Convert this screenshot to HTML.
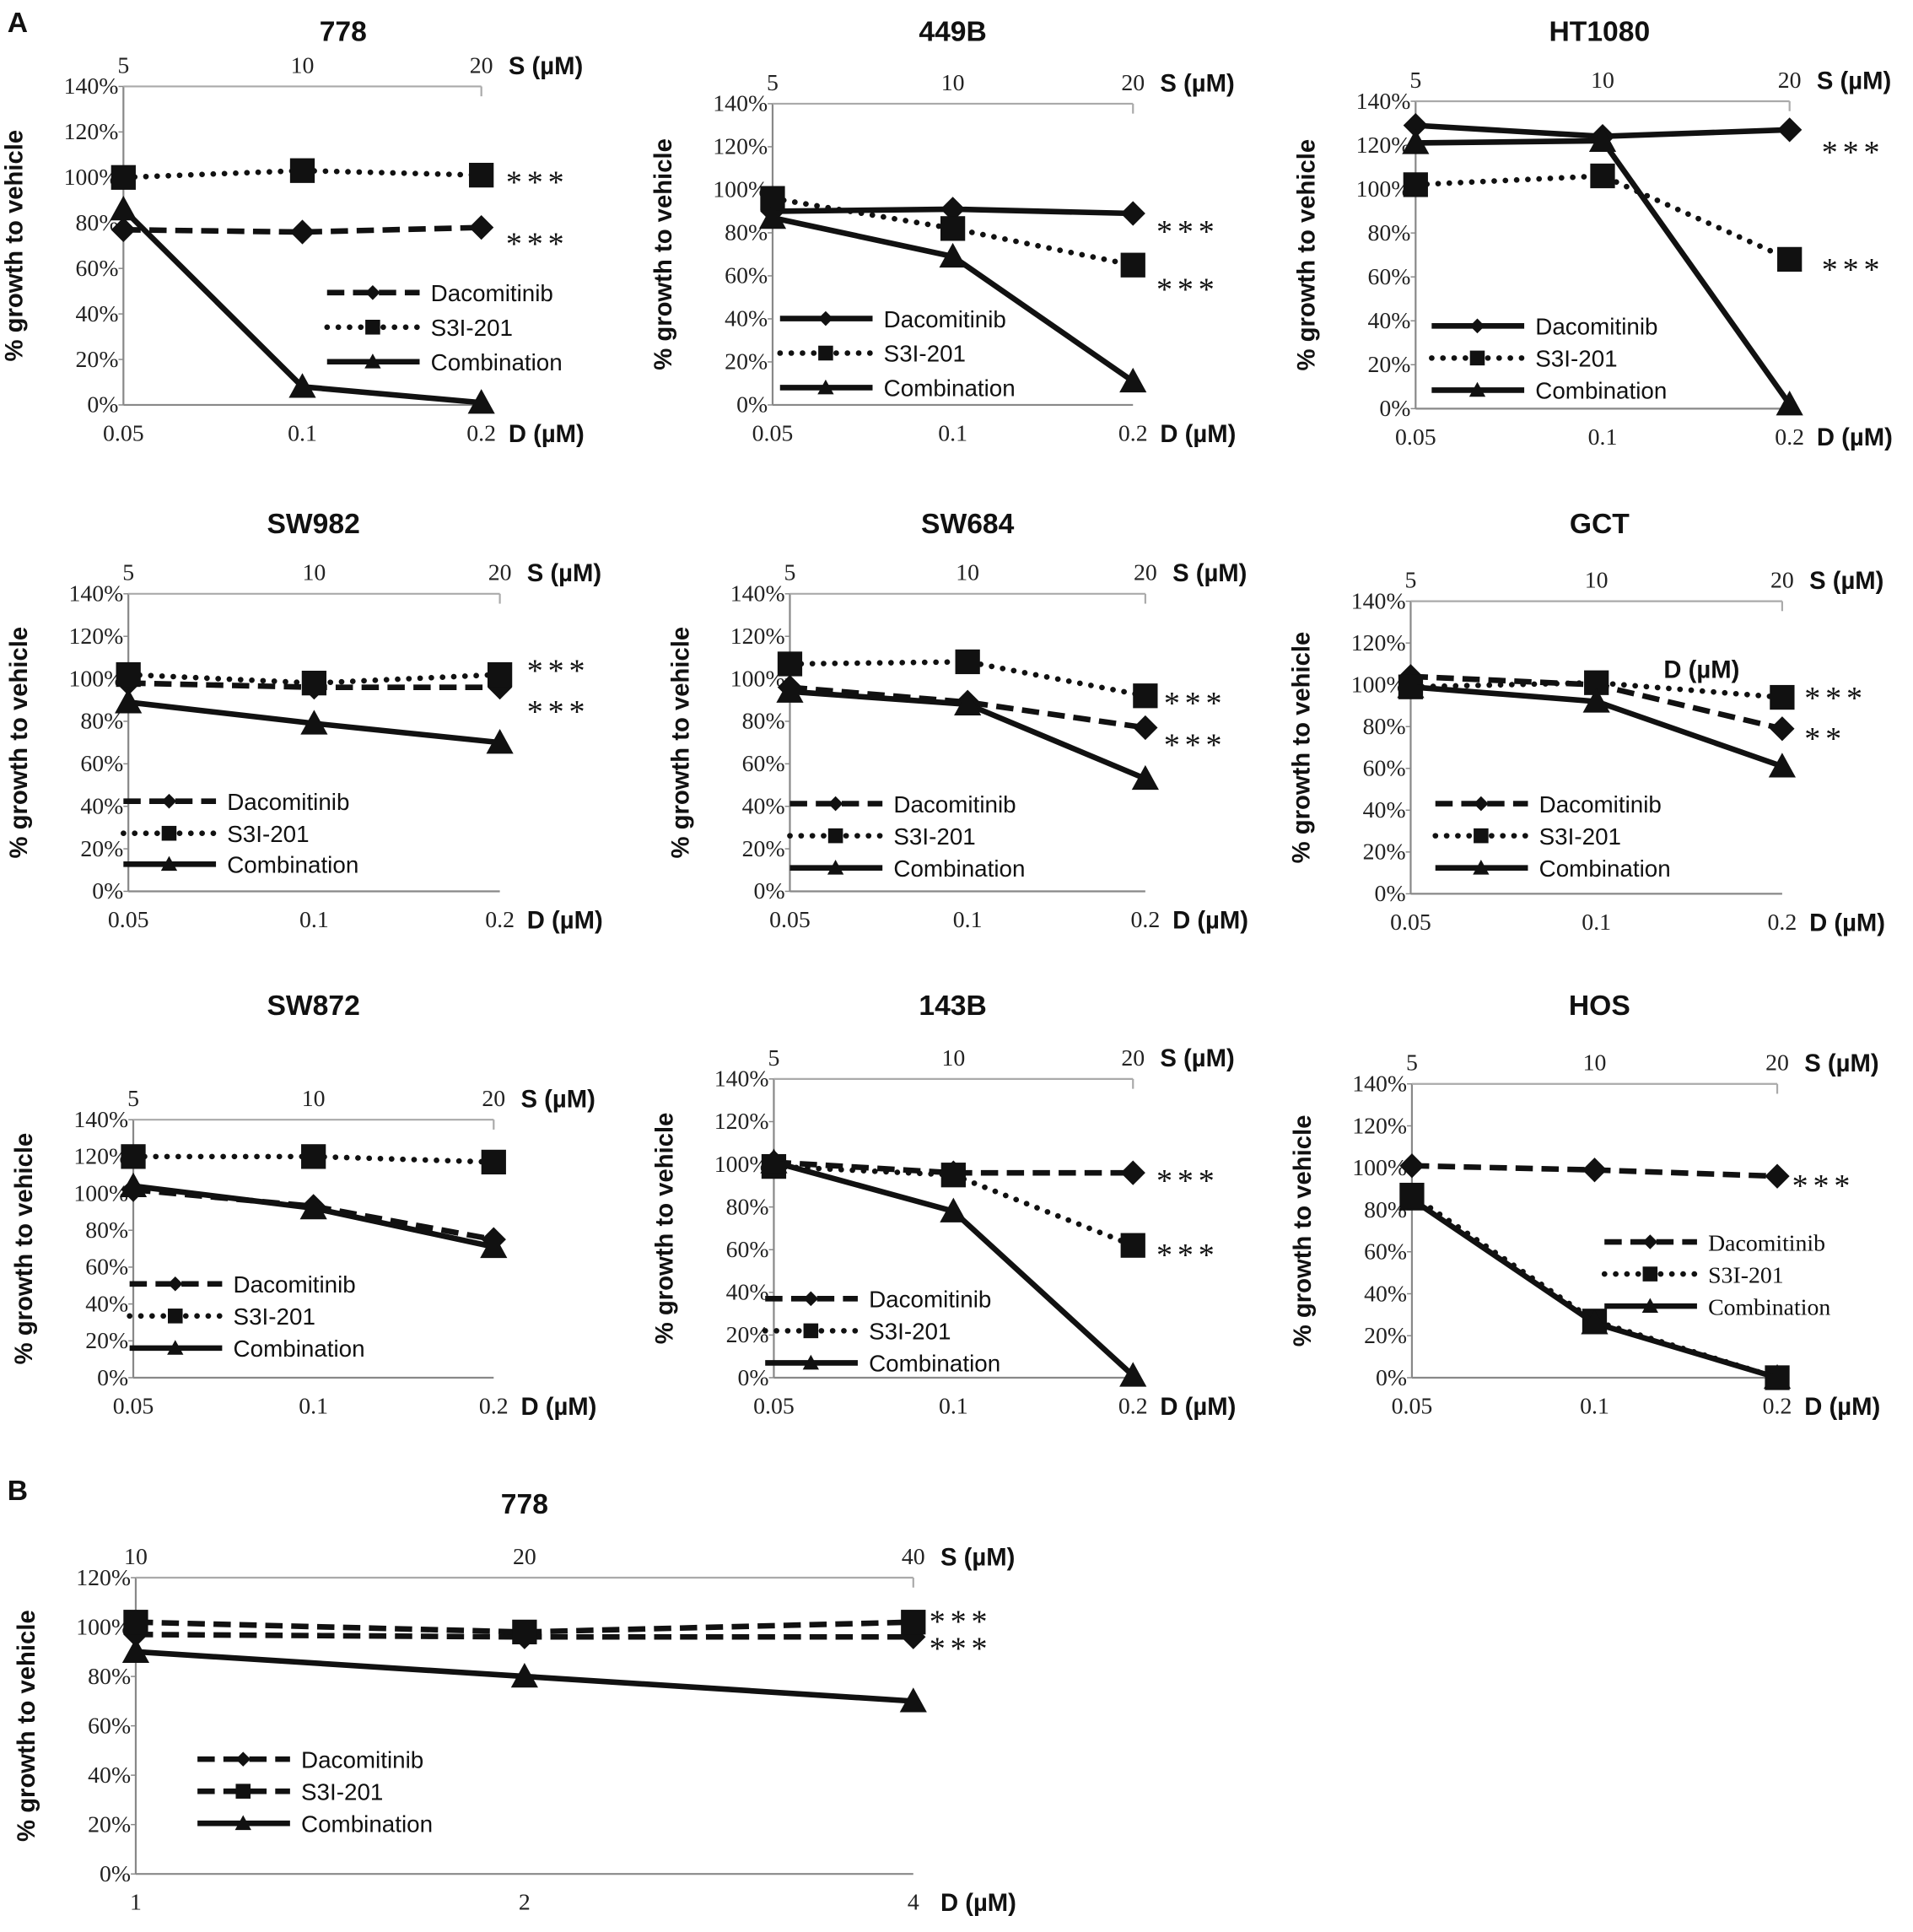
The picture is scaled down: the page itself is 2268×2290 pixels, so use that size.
<!DOCTYPE html>
<html><head><meta charset="utf-8"><style>
html,body{margin:0;padding:0;background:#fff}
svg{display:block}
.tk{font-family:"Liberation Serif",serif;font-size:19px;fill:#222}
.ax{font-family:"Liberation Sans",sans-serif;font-size:20px;font-weight:bold;fill:#111}
.ti{font-family:"Liberation Sans",sans-serif;font-size:23px;font-weight:bold;fill:#111}
.lg{font-family:"Liberation Sans",sans-serif;font-size:19px;fill:#111}
.st{font-family:"Liberation Serif",serif;font-size:26px;fill:#111;letter-spacing:4px}
</style></head><body>
<svg id="fig" width="2268" height="2290" viewBox="0 0 1550 1565" xmlns="http://www.w3.org/2000/svg">
<text class="ti" x="6" y="26">A</text>
<text class="ti" x="6" y="1215">B</text>
</svg>
<script>
const dLabels=["0.05","0.1","0.2"];
const sLabels=["5","10","20"];
const dLabelsB=["1","2","4"];
const sLabelsB=["10","20","40"];
const dac778=[77,76,78], s3i778=[100,103,101], comb778=[86,8,1];
const dac449=[90,91,89], s3i449=[96,82,65], comb449=[87,69,11];
const dacHT=[129,124,127], s3iHT=[102,106,68], combHT=[121,122,2];
const dac982=[98,96,96], s3i982=[102,98,102], comb982=[89,79,70];
const dac684=[96,89,77], s3i684=[107,108,92], comb684=[94,88,53];
const dacGCT=[104,100,79], s3iGCT=[99,101,94], combGCT=[99,92,61];
const dac872=[102,93,75], s3i872=[120,120,117], comb872=[104,92,71];
const dac143=[101,96,96], s3i143=[99,95,62], comb143=[101,78,1];
const dacHOS=[101,99,96], s3iHOS=[87,27,0], combHOS=[85,26,0];
const dacB=[97,96,96], s3iB=[102,98,102], combB=[90,80,70];

const NS="http://www.w3.org/2000/svg";
const svg=document.getElementById('fig');
function mk(tag,attrs,parent,txt){const e=document.createElementNS(NS,tag);for(const k in attrs)e.setAttribute(k,attrs[k]);if(txt!==undefined)e.textContent=txt;(parent||svg).appendChild(e);return e;}
const DASH={dash:"14 7",dot:"0.1 9",solid:"none"};
function marker(g,type,x,y,name,r){
  r=r||10;
  let m;
  if(type==='d')m=mk('polygon',{points:`${x},${y-r} ${x+r},${y} ${x},${y+r} ${x-r},${y}`,fill:'#111'},g);
  else if(type==='s')m=mk('rect',{x:x-r,y:y-r,width:2*r,height:2*r,fill:'#111'},g);
  else m=mk('polygon',{points:`${x},${y-r*1.1} ${x+r*1.1},${y+r*0.9} ${x-r*1.1},${y+r*0.9}`,fill:'#111'},g);
  
  
}
function panel(p){
  const g=mk('g',{});
  
  
  const n=3, xs=i=>p.x0+(p.x1-p.x0)*i/(n-1), ys=v=>p.y0-(p.y0-p.yt)*v/p.ymax;
  mk('line',{x1:p.x0,y1:p.y0,x2:p.x1,y2:p.y0,stroke:'#888','stroke-width':1.5},g);
  mk('line',{x1:p.x0,y1:p.y0,x2:p.x0,y2:p.yt,stroke:'#888','stroke-width':1.5},g);
  mk('line',{x1:p.x0,y1:p.yt,x2:p.x1,y2:p.yt,stroke:'#aaa','stroke-width':1.5},g);
  mk('line',{x1:p.x1,y1:p.yt,x2:p.x1,y2:p.yt+8,stroke:'#aaa','stroke-width':1.5},g);
  for(let v=0;v<=p.ymax;v+=20){
    const t=mk('text',{class:'tk',x:p.x0-4,y:ys(v)+6,'text-anchor':'end'},g,v+'%');
    
    
    mk('line',{x1:p.x0-4,y1:ys(v),x2:p.x0,y2:ys(v),stroke:'#888'},g);
  }
  p.dl.forEach((l,i)=>{const t=mk('text',{class:'tk',x:xs(i),y:p.y0+29,'text-anchor':'middle'},g,l);
    });
  p.sl.forEach((l,i)=>{const t=mk('text',{class:'tk',x:xs(i),y:p.yt-11,'text-anchor':'middle'},g,l);
    });
  const da=mk('text',{class:'ax',x:p.x1+22,y:p.y0+30},g,'D (µM)');
  
  const sa=mk('text',{class:'ax',x:p.x1+22,y:p.yt-10},g,'S (µM)');
  
  const ti=mk('text',{class:'ti',x:p.tx,y:p.ty,'text-anchor':'middle'},g,p.title);
  
  const cy=(p.y0+p.yt)/2;
  const yt=mk('text',{class:'ax',x:p.x0-82,y:cy,'text-anchor':'middle',transform:`rotate(-90 ${p.x0-82} ${cy})`},g,'% growth to vehicle');
  
  p.series.forEach(s=>{
    const pts=s.v.map((v,i)=>xs(i)+','+ys(v)).join(' ');
    const l=mk('polyline',{points:pts,fill:'none',stroke:'#111','stroke-width':4.5,'stroke-dasharray':DASH[s.ls],'stroke-linecap':s.ls==='dot'?'round':'butt'},g);
    
    s.v.forEach((v,i)=>marker(g,s.mk,xs(i),ys(v),'point-'+s.name));
  });
  p.series.forEach((s,i)=>{
    const ly=p.ly[i];
    const ll=mk('line',{x1:p.lx,y1:ly,x2:p.lx+75,y2:ly,stroke:'#111','stroke-width':4.5,'stroke-dasharray':DASH[s.ls],'stroke-linecap':s.ls==='dot'?'round':'butt'},g);
    
    marker(g,s.mk,p.lx+37,ly,'legend-marker-'+s.name,6);
    const t=mk('text',{class:'lg',x:p.lx+84,y:ly+7,style:p.serif?'font-family:Liberation Serif,serif':''},g,s.label);
    
  });
  (p.stars||[]).forEach(st=>{const t=mk('text',{class:'st',x:st[0],y:st[1]+14},g,st[2]);
    });
}
function S(d,s,c,dl,sl3){return [
  {name:'dacomitinib',label:'Dacomitinib',v:d,mk:'d',ls:dl||'dash'},
  {name:'s3i-201',label:'S3I-201',v:s,mk:'s',ls:sl3||'dot'},
  {name:'combination',label:'Combination',v:c,mk:'t',ls:'solid'}];}
const P=[
 {id:'778',title:'778',tx:278,ty:33,x0:100,x1:390,y0:328,yt:70,ymax:140,dl:dLabels,sl:sLabels,series:S(dac778,s3i778,comb778),lx:265,ly:[237,265,293],stars:[[410,142,'***'],[410,192,'***']]},
 {id:'449b',title:'449B',tx:772,ty:33,x0:626,x1:918,y0:328,yt:84,ymax:140,dl:dLabels,sl:sLabels,series:S(dac449,s3i449,comb449,'solid'),lx:632,ly:[258,286,314],stars:[[937,182,'***'],[937,229,'***']]},
 {id:'ht1080',title:'HT1080',tx:1296,ty:33,x0:1147,x1:1450,y0:331,yt:82,ymax:140,dl:dLabels,sl:sLabels,series:S(dacHT,s3iHT,combHT,'solid'),lx:1160,ly:[264,290,316],stars:[[1476,118,'***'],[1476,213,'***']]},
 {id:'sw982',title:'SW982',tx:254,ty:432,x0:104,x1:405,y0:722,yt:481,ymax:140,dl:dLabels,sl:sLabels,series:S(dac982,s3i982,comb982),lx:100,ly:[649,675,700],stars:[[427,538,'***'],[427,571,'***']]},
 {id:'sw684',title:'SW684',tx:784,ty:432,x0:640,x1:928,y0:722,yt:481,ymax:140,dl:dLabels,sl:sLabels,series:S(dac684,s3i684,comb684),lx:640,ly:[651,677,703],stars:[[943,564,'***'],[943,598,'***']]},
 {id:'gct',title:'GCT',tx:1296,ty:432,x0:1143,x1:1444,y0:724,yt:487,ymax:140,dl:dLabels,sl:sLabels,series:S(dacGCT,s3iGCT,combGCT),lx:1163,ly:[651,677,703],stars:[[1462,560,'***'],[1462,593,'**']]},
 {id:'sw872',title:'SW872',tx:254,ty:822,x0:108,x1:400,y0:1116,yt:907,ymax:140,dl:dLabels,sl:sLabels,series:S(dac872,s3i872,comb872),lx:105,ly:[1040,1066,1092],stars:[]},
 {id:'143b',title:'143B',tx:772,ty:822,x0:627,x1:918,y0:1116,yt:874,ymax:140,dl:dLabels,sl:sLabels,series:S(dac143,s3i143,comb143),lx:620,ly:[1052,1078,1104],stars:[[937,951,'***'],[937,1011,'***']]},
 {id:'hos',title:'HOS',tx:1296,ty:822,x0:1144,x1:1440,y0:1116,yt:878,ymax:140,dl:dLabels,sl:sLabels,series:S(dacHOS,s3iHOS,combHOS),lx:1300,ly:[1006,1032,1058],serif:true,stars:[[1452,955,'***']]},
 {id:'b-778',title:'778',tx:425,ty:1226,x0:110,x1:740,y0:1518,yt:1278,ymax:120,dl:dLabelsB,sl:sLabelsB,series:S(dacB,s3iB,combB,'dash','dash'),lx:160,ly:[1425,1451,1477],stars:[[753,1308,'***'],[753,1330,'***']]}
];
P.forEach(panel);
const gd=mk('text',{class:'ax',x:1348,y:549},svg,'D (µM)');


</script>
</body></html>
